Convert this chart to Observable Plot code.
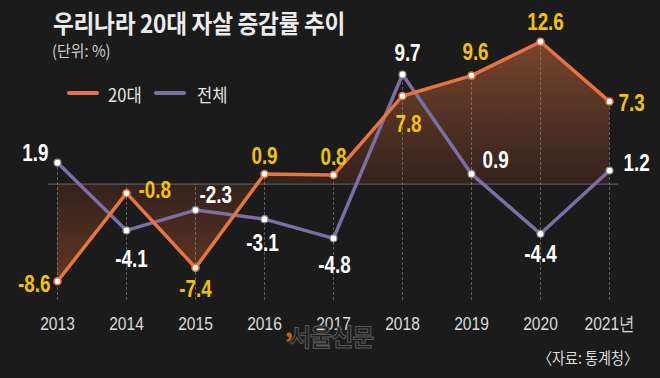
<!DOCTYPE html>
<html><head><meta charset="utf-8">
<script src="https://cdn.jsdelivr.net/npm/d3@7"></script>
<script src="https://cdn.jsdelivr.net/npm/@observablehq/plot@0.6"></script>
<style>
body{margin:0;background:#1b1b1b;}
#wrap{position:relative;width:660px;height:378px;background:#1b1b1b;overflow:hidden;font-family:"Noto Sans CJK KR","Noto Sans",sans-serif;}
#chart{position:absolute;left:0;top:0;}
.title{position:absolute;left:53px;top:4px;font-size:25px;font-weight:700;color:#ececec;transform:scaleX(0.905);transform-origin:0 0;white-space:nowrap;letter-spacing:-0.3px;}
.sub{position:absolute;left:52px;top:38px;font-size:16px;color:#cfcfcf;white-space:nowrap;transform:scaleX(0.93);transform-origin:0 0;}
.leg{position:absolute;top:81px;font-size:18px;color:#e6e6e6;white-space:nowrap;transform:scaleX(0.92);transform-origin:0 0;}
.sw{position:absolute;top:91px;width:32px;height:4px;border-radius:2px;}
.cap{position:absolute;left:538px;top:345px;font-size:16px;color:#dcdcdc;white-space:nowrap;transform:scaleX(0.88);transform-origin:0 0;}
.wm{position:absolute;left:289px;top:324px;font-size:24px;line-height:24px;font-weight:700;color:#1d1d1d;-webkit-text-stroke:1px #5a5a5a;white-space:nowrap;letter-spacing:-1px;}
.wmc{position:absolute;left:285px;top:316px;font-size:22px;line-height:22px;font-weight:900;color:#b5651d;}
</style></head>
<body>
<div id="wrap">
  <div id="chart"></div>
  <div class="title" id="title"></div>
  <div class="sub" id="sub"></div>
  <div class="sw" style="left:67px;background:#e8743f"></div>
  <div class="leg" id="leg1" style="left:108px"></div>
  <div class="sw" style="left:154px;background:#7b6fa3"></div>
  <div class="leg" id="leg2" style="left:197px"></div>
  <div class="wmc">,</div>
  <div class="wm">서울신문</div>
  <div class="cap" id="cap"></div>
</div>
<script>
// ---- data ----
const years = [2013, 2014, 2015, 2016, 2017, 2018, 2019, 2020, 2021];
const twenties = [-8.6, -0.8, -7.4, 0.9, 0.8, 7.8, 9.6, 12.6, 7.3];
const overall = [1.9, -4.1, -2.3, -3.1, -4.8, 9.7, 0.9, -4.4, 1.2];
const tickLabels = ["2013", "2014", "2015", "2016", "2017", "2018", "2019", "2020", "2021년"];
const seriesNames = ["20대", "전체"];
const titleText = "우리나라 20대 자살 증감률 추이";
const unitText = "(단위: %)";
const sourceText = "〈자료: 통계청〉";

// ---- rendering ----
document.getElementById("title").textContent = titleText;
document.getElementById("sub").textContent = unitText;
document.getElementById("leg1").textContent = seriesNames[0];
document.getElementById("leg2").textContent = seriesNames[1];
document.getElementById("cap").textContent = sourceText;

const rows = years.map((y, i) => ({year: y, a: twenties[i], b: overall[i], label: tickLabels[i]}));
const yMin = -10.3;

// label placement [anchor, dx, dy]
const placeA = [["end",-7,3],["start",12,-3],["middle",0,22],["middle",0,-17],["middle",0,-17],["middle",6,29],["middle",4,-23],["middle",5,-19],["start",9,2]];
const placeB = [["end",-9,-9],["middle",5,29],["start",4,-14],["middle",-2,24],["middle",1,27],["middle",5,-21],["start",11,-13],["middle",0,21],["start",14,-7]];

const numFont = "'Liberation Sans',Arial,sans-serif";
const orange = "#e8743f", purple = "#7b6fa3";

const gradient = () => {
  const defs = d3.create("svg:defs");
  const g = defs.append("linearGradient").attr("id", "areaGrad")
    .attr("x1", 0).attr("x2", 0).attr("y1", 0).attr("y2", 1);
  const zeroOff = d3.max(twenties) / (d3.max(twenties) - d3.min(twenties));
  g.append("stop").attr("offset", 0).attr("stop-color", "#78452d");
  g.append("stop").attr("offset", zeroOff).attr("stop-color", "#33221c");
  g.append("stop").attr("offset", 1).attr("stop-color", "#603624");
  return defs.node();
};

const labelMarks = [];
rows.forEach((r, i) => {
  const [ta, dxa, dya] = placeA[i];
  labelMarks.push(Plot.text([r], {x: "year", y: "a", text: d => d.a.toFixed(1), textAnchor: ta, dx: dxa, dy: dya,
    fill: "#f4c300", fontSize: 23, fontWeight: "bold", fontFamily: numFont}));
  const [tb, dxb, dyb] = placeB[i];
  labelMarks.push(Plot.text([r], {x: "year", y: "b", text: d => d.b.toFixed(1), textAnchor: tb, dx: dxb, dy: dyb,
    fill: "#ffffff", fontSize: 23, fontWeight: "bold", fontFamily: numFont}));
});

const plot = Plot.plot({
  width: 660,
  height: 378,
  marginLeft: 57,
  marginRight: 51,
  marginTop: 25.4,
  marginBottom: 78,
  style: {background: "transparent", color: "#dcdcdc", fontFamily: numFont, fontSize: "19px"},
  x: {type: "linear", domain: [2013, 2021], ticks: years, tickFormat: d => tickLabels[years.indexOf(d)], tickSize: 0, tickPadding: 16, label: null},
  y: {domain: [yMin, 14], axis: null},
  marks: [
    gradient,
    Plot.areaY(rows, {x: "year", y1: 0, y2: "a", fill: "url(#areaGrad)"}),
    Plot.ruleY([0], {stroke: "#5a5a5a", strokeWidth: 1.2, insetLeft: -9, insetRight: -9}),
    Plot.ruleX(rows, {x: "year", y1: yMin, y2: d => Math.max(0, d.a, d.b), stroke: "#a0a0a0", strokeOpacity: 0.5, strokeDasharray: "3,2"}),
    Plot.line(rows, {x: "year", y: "b", stroke: purple, strokeWidth: 3.5}),
    Plot.line(rows, {x: "year", y: "a", stroke: orange, strokeWidth: 3.5}),
    Plot.dot(rows, {x: "year", y: "b", r: 3.5, fill: "#fff", stroke: "#8a8a8a", strokeWidth: 1.2}),
    Plot.dot(rows, {x: "year", y: "a", r: 3.5, fill: "#fff", stroke: orange, strokeWidth: 1.5}),
    ...labelMarks
  ]
});
// condense all chart text horizontally (narrow face look), scaling about each text's anchor
d3.select(plot).selectAll("text").each(function() {
  const t = this.getAttribute("transform") || "";
  this.setAttribute("transform", (t + " scale(0.82,1)").trim());
});
document.getElementById("chart").appendChild(plot);
</script>
</body></html>
